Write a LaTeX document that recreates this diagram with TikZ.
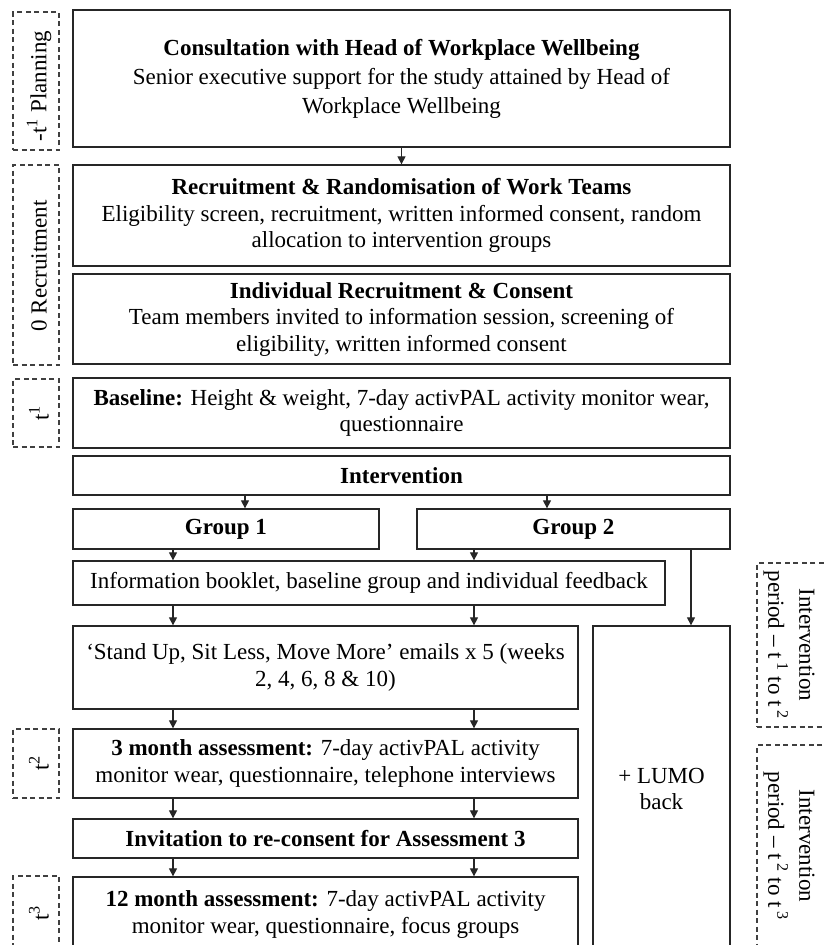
\documentclass[tikz,border=0pt]{standalone}
\usepackage{fontspec}
\setmainfont{Liberation Serif}
\usetikzlibrary{arrows.meta}
\newcommand\myfs{\fontsize{23}{26.5}\selectfont}
\newcommand\myfsw{\fontsize{23}{29}\selectfont}
\newcommand\myfsr{\fontsize{23}{31}\selectfont}
\begin{document}
\begin{tikzpicture}[x=1pt,y=-1pt,
  box/.style={draw=black!85, line width=1.3pt, align=center, inner sep=0pt, font=\myfs},
  dbox/.style={draw=black!75, line width=1.1pt, dash pattern=on 5pt off 3.5pt, inner sep=0pt},
  lab/.style={align=center, inner sep=0pt, font=\myfs},
  arr/.style={line width=1.2pt, draw=black!85, -{Triangle[length=8pt,width=8pt]}}]
\useasboundingbox (0,0) rectangle (824,945);
\clip (0,0) rectangle (824,945);
% main boxes
\node[box, font=\myfsw, minimum width=657pt, minimum height=137pt] (b1) at (401.5,78.5)
  {\textbf{Consultation with Head of Workplace Wellbeing}\\Senior executive support for the study attained by Head of\\Workplace Wellbeing};
\node[box, minimum width=657pt, minimum height=101pt] (b2) at (401.5,215.5)
  {\textbf{Recruitment \& Randomisation of Work Teams}\\Eligibility screen, recruitment, written informed consent, random\\allocation to intervention groups};
\node[box, minimum width=657pt, minimum height=90pt] (b3) at (401.5,319)
  {\textbf{Individual Recruitment \& Consent}\\Team members invited to information session, screening of\\eligibility, written informed consent};
\node[box, minimum width=657pt, minimum height=70pt] (b4) at (401.5,413)
  {\textbf{Baseline:} Height \& weight, 7-day activPAL activity monitor wear,\\questionnaire};
\node[box, minimum width=657pt, minimum height=39pt] (intv) at (401.5,475.5)
  {\textbf{Intervention}};
\node[box, minimum width=306pt, minimum height=40pt] (g1) at (226,529) {\textbf{Group 1}};
\node[box, minimum width=313pt, minimum height=40pt] (g2) at (573.5,529) {\textbf{Group 2}};
\node[box, minimum width=592pt, minimum height=44pt] (book) at (369,583)
  {Information booklet, baseline group and individual feedback};
\node[box, minimum width=505pt, minimum height=83pt] (mail) at (325.5,667.5)
  {‘Stand Up, Sit Less, Move More’ emails x 5 (weeks\\2, 4, 6, 8 \& 10)};
\node[box, minimum width=137pt, minimum height=326pt] (lumo) at (661.5,789)
  {+ LUMO\\back};
\node[box, minimum width=505pt, minimum height=69pt] (m3) at (325.5,763.5)
  {\textbf{3 month assessment:} 7-day activPAL activity\\monitor wear, questionnaire, telephone interviews};
\node[box, minimum width=505pt, minimum height=39pt] (inv) at (325.5,838.5)
  {\textbf{Invitation to re-consent for Assessment 3}};
\node[box, minimum width=505pt, minimum height=75pt] (m12) at (325.5,914.5)
  {\textbf{12 month assessment:} 7-day activPAL activity\\monitor wear, questionnaire, focus groups};
% left dashed phase boxes
\node[dbox, minimum width=46pt, minimum height=138pt] (dplan) at (36,81) {};
\node[lab, rotate=90] (tplan) at (39,86) {-t\textsuperscript{1} Planning};
\node[dbox, minimum width=46pt, minimum height=200pt] (drec) at (36,265) {};
\node[lab, rotate=90] (trec) at (39,266) {0 Recruitment};
\node[dbox, minimum width=46pt, minimum height=68pt] (dt1) at (36,413) {};
\node[lab, rotate=90] (tt1) at (39,413) {t\textsuperscript{1}};
\node[dbox, minimum width=46pt, minimum height=69pt] (dt2) at (36,763.5) {};
\node[lab, rotate=90] (tt2) at (39,763.5) {t\textsuperscript{2}};
\node[dbox, minimum width=46pt, minimum height=79pt] (dt3) at (36,915.5) {};
\node[lab, rotate=90] (tt3) at (39,913) {t\textsuperscript{3}};
% right dashed period boxes
\node[dbox, minimum width=83pt, minimum height=164pt] (dp1) at (798.5,645) {};
\node[lab, font=\myfsr, rotate=-90] (tp1) at (789,645) {Intervention\\period -- t\,\textsuperscript{1} to t\,\textsuperscript{2}};
\node[dbox, minimum width=83pt, minimum height=205pt] (dp2) at (798.5,847.5) {};
\node[lab, font=\myfsr, rotate=-90] (tp2) at (789,846) {Intervention\\period -- t\,\textsuperscript{2} to t\,\textsuperscript{3}};
% x positions of connectors
\coordinate (xa) at (173,0);
\coordinate (xb) at (474,0);
\coordinate (xc) at (245,0);
\coordinate (xd) at (547,0);
\coordinate (xe) at (691,0);
% connectors
\draw[arr] (b1.south) -- (b2.north);
\draw[arr] (intv.south -| xc) -- (g1.north -| xc);
\draw[arr] (intv.south -| xd) -- (g2.north -| xd);
\draw[arr] (g1.south -| xa) -- (book.north -| xa);
\draw[arr] (g2.south -| xb) -- (book.north -| xb);
\draw[arr] (g2.south -| xe) -- (lumo.north -| xe);
\draw[arr] (book.south -| xa) -- (mail.north -| xa);
\draw[arr] (book.south -| xb) -- (mail.north -| xb);
\draw[arr] (mail.south -| xa) -- (m3.north -| xa);
\draw[arr] (mail.south -| xb) -- (m3.north -| xb);
\draw[arr] (m3.south -| xa) -- (inv.north -| xa);
\draw[arr] (m3.south -| xb) -- (inv.north -| xb);
\draw[arr] (inv.south -| xa) -- (m12.north -| xa);
\draw[arr] (inv.south -| xb) -- (m12.north -| xb);
\end{tikzpicture}
\end{document}
